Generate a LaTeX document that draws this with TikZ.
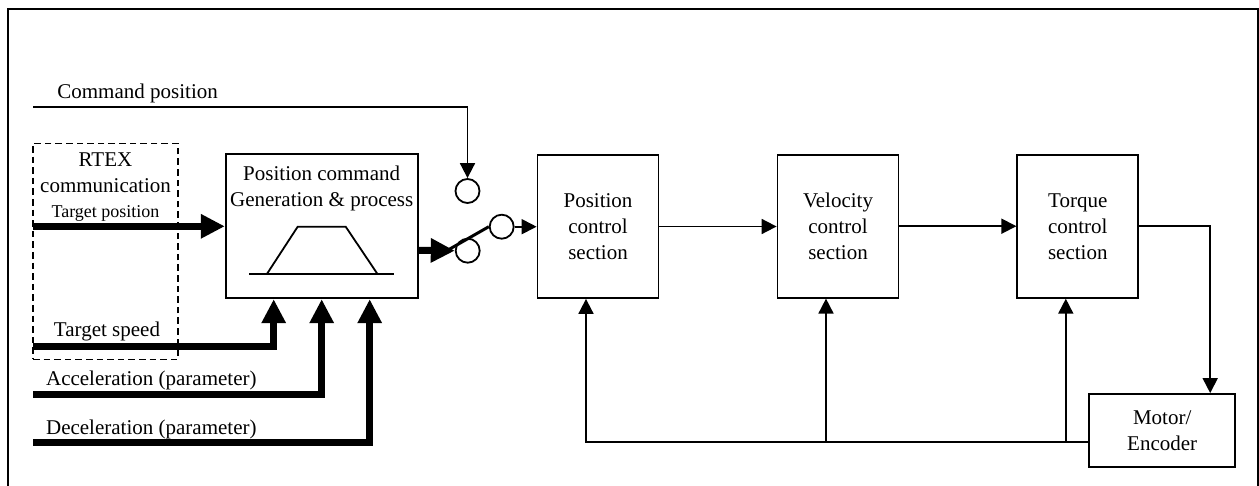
\documentclass[tikz,border=0pt]{standalone}
\usepackage{fontspec}
\setmainfont{Liberation Serif}
\usetikzlibrary{arrows.meta}
\usetikzlibrary{positioning}

\tikzset{
  blk/.style={draw, line width=0.9pt, inner sep=0pt, align=center,
    minimum width=60.5pt, minimum height=71.5pt},
  ctc/.style={draw, circle, line width=0.9pt, fill=white, inner sep=0pt,
    minimum size=12pt},
  arr/.style={line width=0.9pt, -{Triangle[length=7.5pt,width=7.5pt]}},
  fat/.style={line width=3.5pt, -{Triangle[length=12pt,width=11.5pt]}},
  lbl/.style={inner sep=0pt, align=center},
  smalltxt/.style={font=\fontsize{9}{11}\selectfont},
}

\begin{document}
\begin{tikzpicture}[x=0.5pt, y=-0.5pt, font=\fontsize{10.5}{13}\selectfont]
    \useasboundingbox (0,0) rectangle (1259,486);

    % frame
    \draw[line width=1pt] (8,486) -- (8,9) -- (1258,9) -- (1258,486);

    % RTEX part
    \node[draw, dashed, dash pattern=on 3.3pt off 2pt, line width=0.6pt,
      minimum width=72.5pt, minimum height=108pt, inner sep=0pt] (rtex) at (105.5,251.2) {};
    \node[lbl, anchor=base] (rtexlbl) at (105.5,192.7) {RTEX\\communication};
    \node[lbl, smalltxt, anchor=base] (tplbl) at (105.5,217.7) {Target position};
    \node[lbl, anchor=base] (tslbl) at (107,336) {Target speed};

    % command generation
    \node[blk, minimum width=96pt, minimum height=72pt] (gen) at (321.7,226.3) {};
    \node[lbl, anchor=base] (gentitle) at (321.7,206.7) {Position command\\Generation \& process};
    \draw[line width=0.9pt] (249.3,274.3) -- (394.3,274.3);
    \draw[line width=0.9pt] (266.7,274.3) -- (297.7,226.7) -- (345.7,226.7) -- (377.7,274.3);

    % control loop
    \node[blk] (pos) at (598,226.5) {Position\\control\\section};
    \node[blk] (vel) at (838,226.2) {Velocity\\control\\section};
    \node[blk] (torq) at (1077.8,226.3) {Torque\\control\\section};
    \node[blk, minimum width=72.9pt, minimum height=36.3pt] (motor) at (1162.2,430.3) {Motor/\\Encoder};

    % switch
    \node[ctc] (sw1) at (467.5,191) {};
    \node[ctc] (sw2) at (467.7,250.7) {};
    \node[ctc] (sw3) at (501.7,226.7) {};

    % inputs
    \coordinate (cmdin) at (33,106.7);
    \coordinate (tpin) at (33,226.3);
    \coordinate (tsin) at (33,346.7);
    \coordinate (accin) at (33,395);
    \coordinate (decin) at (33,442.7);
    \node[lbl, anchor=base west] (cmdlbl) at (57,98.3) {Command position};
    \node[lbl, anchor=base west] (acclbl) at (45.7,386) {Acceleration (parameter)};
    \node[lbl, anchor=base west] (declbl) at (45.7,434.3) {Deceleration (parameter)};

    \draw[arr] (cmdin) -| (sw1.north);
    \draw[fat] (tpin) -- (gen.west);
    \draw[fat] (tsin) -| ([xshift=-24pt]gen.south);
    \draw[fat] (accin) -| (gen.south);
    \draw[fat] (decin) -| ([xshift=24pt]gen.south);

    \draw[fat] ([yshift=-12pt]gen.east) -- (sw2.west);
    \draw[line width=1.5pt] ([xshift=-4pt]sw2.west) -- (sw3.west);
    \draw[arr] (sw3.east) -- (sw3.east -| pos.west);

    \draw[arr] (pos.east) -- (pos.east -| vel.west);
    \draw[arr] (vel.east) -- (vel.east -| torq.west);
    \draw[arr] (torq.east) -| ([xshift=24pt]motor.north);

    % feedback
    \coordinate (fb) at ([yshift=-6pt]motor.west);
    \coordinate (posin) at ([xshift=-6pt]pos.south);
    \coordinate (velin) at ([xshift=-6pt]vel.south);
    \coordinate (torqin) at ([xshift=-6pt]torq.south);
    \draw[arr] (fb) -| (posin);
    \draw[arr] (fb -| velin) -- (velin);
    \draw[arr] (fb -| torqin) -- (torqin);

\end{tikzpicture}
\end{document}
